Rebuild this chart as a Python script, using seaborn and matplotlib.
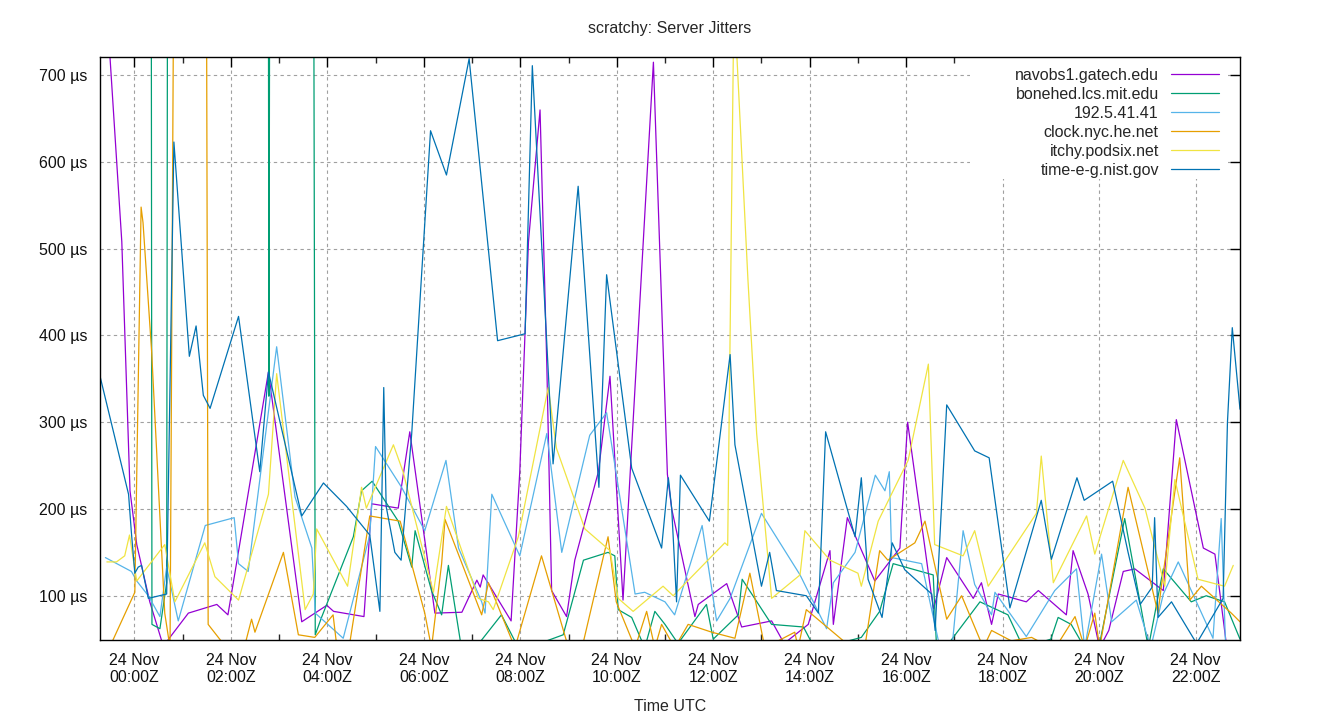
import pandas as pd
import numpy as np
import matplotlib.pyplot as plt
import matplotlib.dates as mdates
from matplotlib.patches import Rectangle
from matplotlib.ticker import FuncFormatter
import seaborn as sns

# hours after 24 Nov 00:00 UTC, jitter in microseconds (values above 720 / below 48 run off the plot)
navobs_h = [-0.72, -0.55, -0.26, -0.09, 0.05, 0.32, 0.60, 1.12, 1.71, 1.94, 2.78, 3.47, 3.99, 4.13, 4.76, 4.92,
            5.47, 5.71, 6.23, 6.79, 7.10, 7.17, 7.23, 7.81, 7.99, 8.17, 8.41, 8.55, 8.65, 8.96, 9.13, 9.62,
            9.86, 10.13, 10.76, 11.05, 11.14, 11.62, 11.69, 12.28, 12.59, 13.21, 13.47, 13.97, 14.42, 14.49,
            14.78, 15.35, 15.87, 16.03, 16.52, 16.57, 16.84, 17.39, 17.56, 17.77, 17.91, 18.49, 18.74, 19.32,
            19.46, 19.77, 20.01, 20.20, 20.50, 20.74, 21.33, 21.60, 22.16, 22.40, 22.67]
navobs_us = [900, 760, 508, 221, 159, 93, 42, 80, 90, 78, 358, 70, 89, 82, 76, 206,
             201, 289, 80, 81, 118, 110, 124, 71, 243, 508, 660, 367, 106, 76, 141, 243,
             353, 95, 715, 240, 200, 76, 90, 114, 64, 71, 45, 67, 152, 67,
             190, 117, 155, 300, 102, 85, 144, 97, 115, 67, 102, 93, 106, 78,
             152, 102, 40, 60, 128, 131, 106, 303, 155, 148, 30]

bonehed_h = [-0.72, 0.31, 0.365, 0.53, 0.67, 0.74, 2.73, 2.79, 2.87, 3.63, 3.75, 3.88, 4.54, 4.71, 4.93,
             5.47, 5.75, 5.82, 6.16, 6.37, 6.51, 6.78, 7.10, 7.61, 7.96, 8.40, 8.89, 9.31, 9.82, 9.96,
             10.03, 10.31, 10.58, 10.79, 11.00, 11.27, 11.86, 12.00, 12.52, 12.60, 13.21, 13.87, 14.05,
             14.60, 15.07, 15.45, 15.73, 16.56, 16.63, 16.84, 17.53, 18.11, 18.43, 19.00, 19.15, 19.42,
             19.70, 20.00, 20.53, 21.02, 21.33, 21.91, 22.22, 22.60, 22.92]
bonehed_us = [3000, 3000, 67, 62, 115, 3000, 3000, 330, 3000, 3000, 55, 75, 168, 221, 232,
              186, 133, 175, 106, 78, 135, 40, 42, 78, 40, 45, 55, 141, 150, 146,
              84, 75, 40, 82, 67, 45, 90, 50, 78, 119, 67, 64, 45,
              45, 52, 82, 137, 124, 40, 42, 93, 78, 40, 50, 75, 67,
              40, 42, 189, 40, 131, 93, 100, 93, 50]

ip_h = [-0.60, -0.06, 0.05, 0.29, 0.53, 0.67, 0.91, 1.47, 2.07, 2.16, 2.36, 2.95, 3.33, 3.68, 3.75, 4.33,
        4.88, 5.00, 5.54, 6.02, 6.46, 6.72, 7.20, 7.27, 7.41, 7.99, 8.55, 8.86, 9.44, 9.79, 10.38, 10.58,
        11.00, 11.20, 11.77, 12.07, 12.35, 13.00, 13.80, 14.35, 14.49, 14.94, 15.36, 15.56, 15.65, 15.70,
        16.32, 16.70, 16.95, 17.18, 17.42, 17.77, 17.84, 18.49, 19.08, 19.53, 19.70, 20.05, 20.26, 20.77,
        21.07, 21.33, 21.64, 21.91, 22.36, 22.53, 22.62]
ip_us = [144, 128, 117, 100, 76, 133, 71, 181, 190, 137, 128, 387, 214, 155, 80, 51,
         170, 272, 225, 175, 256, 155, 93, 80, 217, 146, 287, 150, 285, 311, 102, 104,
         93, 78, 181, 71, 97, 195, 124, 62, 115, 150, 239, 221, 243, 144,
         137, 40, 40, 175, 113, 78, 104, 53, 106, 131, 40, 148, 70, 95,
         40, 102, 139, 106, 51, 189, 45]

clock_h = [-0.60, 0.01, 0.14, 0.18, 0.36, 0.63, 0.74, 0.93, 1.44, 1.53, 1.91, 2.30, 2.43, 2.50, 3.09, 3.40,
           3.74, 4.12, 4.20, 4.45, 4.88, 5.51, 6.02, 6.16, 6.37, 6.44, 7.20, 7.34, 7.89, 8.44, 9.00, 9.28,
           9.82, 9.99, 10.38, 10.62, 10.79, 10.93, 11.20, 11.48, 11.97, 12.45, 12.76, 13.07, 13.69, 13.76,
           13.93, 14.87, 15.14, 15.45, 15.62, 16.18, 16.39, 16.84, 17.15, 17.60, 17.77, 18.18, 18.60, 19.00,
           19.15, 19.50, 19.70, 19.91, 20.01, 20.60, 21.22, 21.29, 21.67, 21.88, 22.12, 22.74, 22.92]
clock_us = [30, 104, 548, 530, 380, 80, 40, 2000, 2000, 67, 40, 45, 73, 58, 150, 55,
            52, 78, 40, 40, 192, 186, 80, 40, 137, 188, 78, 115, 40, 146, 40, 40,
            168, 93, 40, 82, 40, 67, 40, 67, 58, 51, 126, 40, 58, 40,
            84, 40, 40, 152, 141, 161, 186, 73, 100, 40, 60, 48, 52, 40,
            45, 76, 40, 80, 40, 225, 80, 111, 259, 95, 111, 80, 70]

itchy_h = [-0.57, -0.37, -0.20, -0.10, -0.02, 0.05, 0.63, 0.84, 1.46, 1.67, 2.16, 2.78, 2.95, 3.54, 3.71,
           3.78, 4.42, 4.71, 4.81, 5.37, 5.57, 6.20, 6.47, 7.13, 7.34, 7.44, 7.96, 8.58, 8.75, 9.34, 9.86,
           10.03, 10.34, 10.96, 11.17, 12.24, 12.30, 12.43, 12.72, 12.90, 13.21, 13.80, 13.90, 14.42, 15.00,
           15.07, 15.42, 16.04, 16.46, 16.59, 17.18, 17.42, 17.70, 18.70, 18.80, 19.05, 19.74, 19.91, 20.50,
           20.95, 21.36, 21.57, 22.05, 22.60, 22.78]
itchy_us = [139, 139, 146, 170, 141, 117, 159, 93, 161, 122, 95, 217, 356, 84, 102,
            177, 111, 225, 201, 274, 243, 104, 203, 97, 93, 84, 168, 340, 270, 177, 152,
            97, 82, 111, 100, 161, 158, 790, 464, 287, 97, 124, 175, 141, 126,
            111, 186, 256, 367, 159, 146, 175, 111, 195, 261, 115, 192, 148, 256,
            201, 111, 234, 119, 111, 135]

nist_h = [-0.72, -0.12, -0.06, 0.01, 0.08, 0.15, 0.29, 0.67, 0.82, 1.14, 1.28, 1.43, 1.57, 2.16, 2.60, 2.78,
          3.47, 3.92, 4.40, 4.88, 5.09, 5.17, 5.22, 5.40, 5.53, 5.75, 6.14, 6.47, 6.94, 7.53, 8.10, 8.25,
          8.68, 9.20, 9.63, 9.79, 10.31, 10.93, 11.07, 11.14, 11.24, 11.32, 11.92, 12.35, 12.45, 13.00,
          13.17, 13.31, 13.93, 14.18, 14.33, 14.94, 15.07, 15.21, 15.50, 15.71, 15.97, 16.53, 16.60, 16.84,
          17.42, 17.72, 18.15, 18.80, 19.01, 19.54, 19.69, 20.28, 20.60, 20.85, 21.10, 21.15, 21.22, 21.50,
          22.02, 22.57, 22.66, 22.76, 22.92]
nist_us = [355, 217, 172, 126, 133, 135, 97, 102, 623, 376, 411, 331, 316, 422, 243, 358,
           192, 230, 203, 170, 82, 340, 203, 150, 141, 287, 636, 585, 719, 394, 402, 711,
           252, 572, 225, 470, 247, 155, 236, 200, 93, 239, 186, 378, 274, 111,
           150, 106, 100, 80, 289, 168, 236, 119, 75, 161, 130, 102, 60, 320,
           267, 259, 86, 210, 142, 236, 210, 232, 150, 90, 110, 190, 75, 93,
           45, 97, 300, 409, 315]

series = [
    ("navobs1.gatech.edu", navobs_h, navobs_us, "#9400d3"),
    ("bonehed.lcs.mit.edu", bonehed_h, bonehed_us, "#009e73"),
    ("192.5.41.41", ip_h, ip_us, "#56b4e9"),
    ("clock.nyc.he.net", clock_h, clock_us, "#e69f00"),
    ("itchy.podsix.net", itchy_h, itchy_us, "#f0e442"),
    ("time-e-g.nist.gov", nist_h, nist_us, "#0072b2"),
]

base = pd.Timestamp("2023-11-24 00:00")

sns.set_theme(style="white")
plt.rcParams['font.family'] = ['Liberation Sans', 'DejaVu Sans']

fig = plt.figure(figsize=(13.4, 7.2), dpi=100)
ax = fig.add_axes([100 / 1340, 80 / 720, 1140 / 1340, 583 / 720])

for name, hrs, vals, col in series:
    t = base + pd.to_timedelta(np.array(hrs), unit="h")
    sns.lineplot(x=t, y=vals, ax=ax, color=col, linewidth=0.9, label=name,
                 estimator=None, sort=False, zorder=2)

ax.set_xlim(base + pd.Timedelta(hours=-0.712), base + pd.Timedelta(hours=22.92))
ax.set_ylim(49, 721)

ax.xaxis.set_major_locator(mdates.HourLocator(byhour=range(0, 24, 2)))
ax.xaxis.set_minor_locator(mdates.HourLocator(byhour=range(1, 24, 2)))
ax.xaxis.set_major_formatter(mdates.DateFormatter("%d %b\n%H:%MZ"))
ax.set_yticks([100, 200, 300, 400, 500, 600, 700])
ax.yaxis.set_major_formatter(FuncFormatter(lambda v, p: f"{v:.0f} µs"))

ax.tick_params(axis="both", which="major", direction="in", length=7, width=1,
               top=True, right=True, labelsize=11.5, color="black", labelcolor="#111111")
ax.tick_params(axis="x", which="minor", direction="in", length=4, width=1, top=True, bottom=True)
ax.tick_params(axis="x", which="major", pad=9.4)
ax.tick_params(axis="y", which="major", pad=9)
for s in ax.spines.values():
    s.set_color("black")
    s.set_linewidth(1.0)
    s.set_zorder(5)

ax.grid(True, which="major", color="#a0a0a0", linestyle=(0, (3, 3)), linewidth=0.8)

# opaque key area, like gnuplot's key box (hides the grid behind it)
ax.add_patch(Rectangle((0.7632, 0.7907), 0.2263, 0.2093, transform=ax.transAxes,
                       facecolor="white", edgecolor="none", zorder=1))

fig.suptitle("scratchy: Server Jitters", y=1 - 29 / 720, va="center", fontsize=11.5)
ax.set_xlabel("Time UTC", fontsize=11.5)
ax.xaxis.set_label_coords(0.5, -0.1015)
ax.set_ylabel("")

leg = ax.legend(loc="upper right", bbox_to_anchor=(1130 / 1140, 1.0), markerfirst=False,
                frameon=False, fontsize=11.5, handlelength=3.0, handletextpad=0.78,
                labelspacing=0.25, borderpad=0.675, borderaxespad=0.0)
for txt in leg.get_texts():
    txt.set_ha("right")
leg._legend_box.align = "right"

fig.savefig("out.png", dpi=100)
